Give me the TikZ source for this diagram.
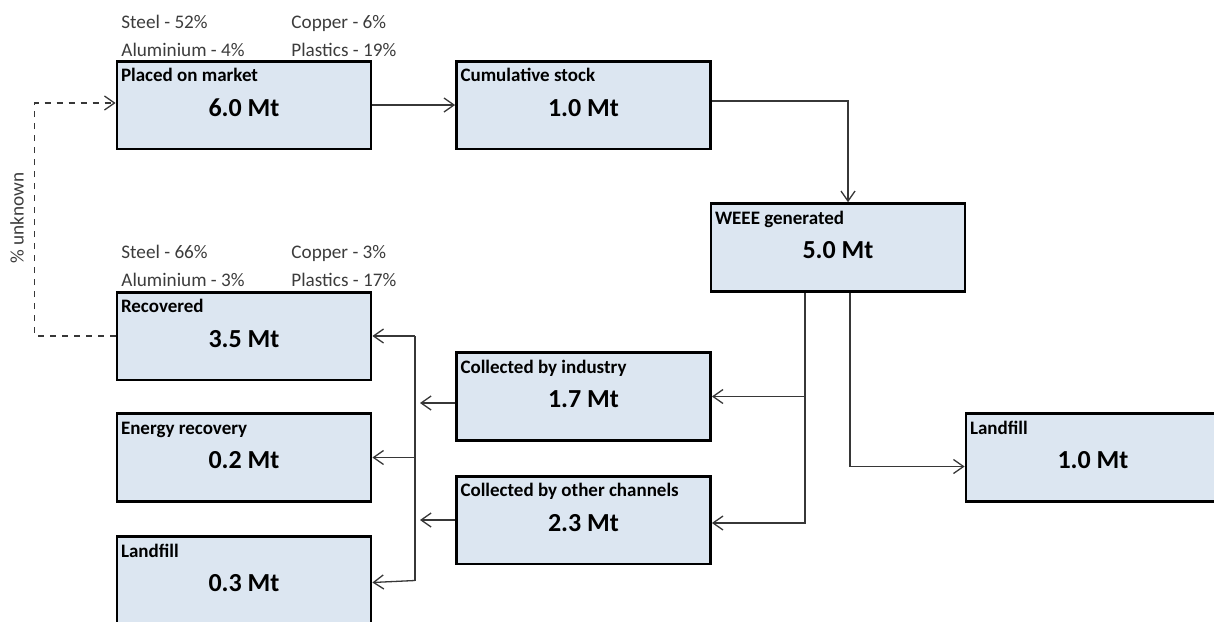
\documentclass[tikz,border=0pt]{standalone}
\usepackage{fontspec}
\setmainfont{Carlito}
\usetikzlibrary{arrows.meta,positioning}
\definecolor{boxfill}{RGB}{220,230,241}
\definecolor{linegray}{RGB}{55,55,55}
\definecolor{textgray}{RGB}{60,60,60}

\begin{document}
\begin{tikzpicture}[x=0.5pt, y=-0.5pt,
    flowbox/.style={draw=black, line width=1.4pt, fill=boxfill, minimum width=127pt, minimum height=43.9pt, inner sep=0pt, text height=11pt, text depth=0pt, font=\fontsize{13}{15}\selectfont\bfseries},
    boxtitle/.style={anchor=base west, inner sep=0pt, font=\fontsize{9.5}{11}\selectfont\bfseries},
    share/.style={anchor=base west, inner sep=0pt, text=textgray, font=\fontsize{9.6}{11}\selectfont},
    flow/.style={draw=linegray, line width=0.65pt, -{Straight Barb[length=5pt,width=7pt]}},
    plain/.style={draw=linegray, line width=0.65pt}]
    \useasboundingbox (0,0) rectangle (1214,621);

    % Boxes
    \node[flowbox] (pom) at (244,105) {6.0 Mt};
    \node[flowbox] (cum) at (583.5,105) {1.0 Mt};
    \node[flowbox] (weee) at (838,247.5) {5.0 Mt};
    \node[flowbox] (lfr) at (1093,457.5) {1.0 Mt};
    \node[flowbox] (ind) at (583.5,396.5) {1.7 Mt};
    \node[flowbox] (oth) at (583.5,520) {2.3 Mt};
    \node[flowbox] (recov) at (244,336) {3.5 Mt};
    \node[flowbox] (ener) at (244,457.5) {0.2 Mt};
    \node[flowbox] (lfl) at (244,580.5) {0.3 Mt};

    % Box titles
    \node[boxtitle] (pomt) at ([shift={(2.5pt,-11pt)}]pom.north west) {Placed on market};
    \node[boxtitle] (cumt) at ([shift={(2.5pt,-11pt)}]cum.north west) {Cumulative stock};
    \node[boxtitle] (weeet) at ([shift={(2.5pt,-11pt)}]weee.north west) {WEEE generated};
    \node[boxtitle] (lfrt) at ([shift={(2.5pt,-11pt)}]lfr.north west) {Landfill};
    \node[boxtitle] (indt) at ([shift={(2.5pt,-11pt)}]ind.north west) {Collected by industry};
    \node[boxtitle] (otht) at ([shift={(2.5pt,-11pt)}]oth.north west) {Collected by other channels};
    \node[boxtitle] (recovt) at ([shift={(2.5pt,-11pt)}]recov.north west) {Recovered};
    \node[boxtitle] (enert) at ([shift={(2.5pt,-11pt)}]ener.north west) {Energy recovery};
    \node[boxtitle] (lflt) at ([shift={(2.5pt,-11pt)}]lfl.north west) {Landfill};

    % Material shares
    \node[share] (pomsteel) at (121,28) {Steel - 52\%};
    \node[share] (pomalu) at (121,56) {Aluminium - 4\%};
    \node[share] (pomcu) at (291,28) {Copper - 6\%};
    \node[share] (pompl) at (291,56) {Plastics - 19\%};
    \node[share] (recsteel) at (121,258) {Steel - 66\%};
    \node[share] (recalu) at (121,286) {Aluminium - 3\%};
    \node[share] (reccu) at (291,258) {Copper - 3\%};
    \node[share] (recpl) at (291,286) {Plastics - 17\%};

    % Connectors
    \coordinate (split) at (805,0);
    \coordinate (bus) at (415,0);
    \coordinate (indend) at (420,403);
    \coordinate (othend) at (420,520);
    \draw[flow] (pom.east) -- (cum.east -| cum.west);
    \draw[flow] ([yshift=2pt]cum.east) -| ([xshift=5pt]weee.north);
    \draw[flow] (split |- weee.south) |- (ind.east);
    \draw[flow] (split |- weee.south) |- ([yshift=-1.5pt]oth.east);
    \draw[flow] ([xshift=6pt]weee.south) |- ([yshift=-4.5pt]lfr.west);
    \draw[flow] (ind.west |- indend) -- (indend);
    \draw[flow] (oth.west |- othend) -- (othend);
    \draw[plain] (bus |- recov.east) -- (bus |- lfl.east);
    \draw[flow] (bus |- recov.east) -- (recov.east);
    \draw[flow] (bus |- ener.east) -- (ener.east);
    \draw[flow] (bus |- lfl.east) -- ([yshift=-1pt]lfl.east);

    % Return flow
    \draw[flow, dashed] (recov.west) -- ++(-81,0) |- ([yshift=1pt]pom.west);
    \node[rotate=90, inner sep=0pt, text=textgray, font=\fontsize{9.6}{11}\selectfont] (unknown) at (17,218) {\% unknown};
\end{tikzpicture}
\end{document}
